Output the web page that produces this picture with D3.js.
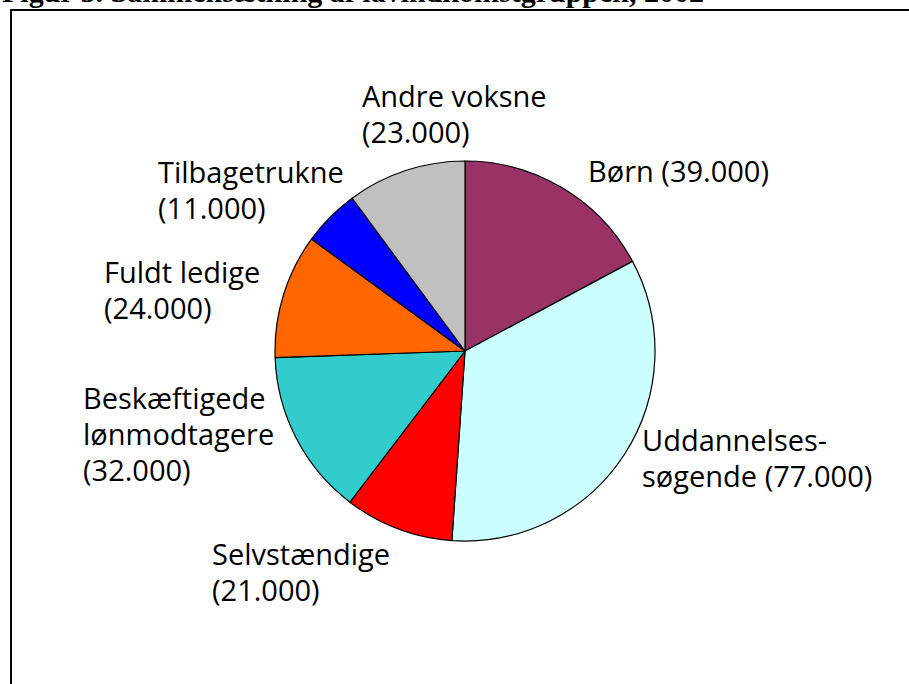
<!DOCTYPE html>
<html>
<head>
<meta charset="utf-8">
<script src="https://cdn.jsdelivr.net/npm/d3@7"></script>
<style>
  body { margin: 0; background: #fff; }
  svg { display: block; }
</style>
</head>
<body>
<svg id="pie" width="909" height="684"></svg>
<script>
// data, in thousands of persons, clockwise from 12 o'clock
var categories = ["Børn", "Uddannelsessøgende", "Selvstændige", "Beskæftigede lønmodtagere",
                  "Fuldt ledige", "Tilbagetrukne", "Andre voksne"];
var values = [39, 77, 21, 32, 24, 11, 23];
var labelLines = [
    ["Børn (39.000)"],
    ["Uddannelses-", "søgende (77.000)"],
    ["Selvstændige", "(21.000)"],
    ["Beskæftigede", "lønmodtagere", "(32.000)"],
    ["Fuldt ledige", "(24.000)"],
    ["Tilbagetrukne", "(11.000)"],
    ["Andre voksne", "(23.000)"]
];
var colors = ["#993366", "#CCFFFF", "#FF0000", "#33CCCC", "#FF6600", "#0000FF", "#C0C0C0"];

var svg = d3.select("#pie"),
    cx = 465, cy = 351, radius = 190;

// title, mostly above the top of the picture as in the original
svg.append("text")
    .attr("x", 2)
    .attr("y", 2)
    .style("font-family", "'Liberation Serif', serif")
    .style("font-weight", "bold")
    .style("font-size", "30px")
    .text("Figur 5. Sammensætning af lavindkomstgruppen, 2002");

// frame (right and bottom edges fall outside the picture)
svg.append("rect")
    .attr("x", 11)
    .attr("y", 10)
    .attr("width", 920)
    .attr("height", 700)
    .attr("fill", "none")
    .attr("stroke", "#000")
    .attr("stroke-width", 2);

var color = d3.scaleOrdinal().domain(categories).range(colors);

var pie = d3.pie().sort(null).value(d => d.value);
var arc = d3.arc().innerRadius(0).outerRadius(radius);

var data = categories.map((c, i) => ({name: c, value: values[i], lines: labelLines[i]}));

var g = svg.append("g")
    .attr("transform", "translate(" + cx + "," + cy + ")");

g.selectAll("path")
    .data(pie(data))
    .enter()
    .append("path")
    .attr("d", arc)
    .attr("fill", d => color(d.data.name))
    .attr("stroke", "#000")
    .attr("stroke-width", 1.2)
    .attr("stroke-linejoin", "round");

// label anchor points (left edge, first baseline), placed like the original
var labelPos = [
    [588, 182],
    [642, 451],
    [212, 565],
    [83, 409],
    [104, 283],
    [158, 183],
    [362, 107]
];

var labels = svg.append("g")
    .style("font-family", "'Open Sans', 'Noto Sans', sans-serif")
    .style("font-size", "29px")
    .attr("fill", "#000");

data.forEach(function(d, i) {
    var t = labels.append("text")
        .attr("x", labelPos[i][0])
        .attr("y", labelPos[i][1]);
    d.lines.forEach(function(line, j) {
        t.append("tspan")
            .attr("x", labelPos[i][0])
            .attr("dy", j === 0 ? 0 : 36)
            .text(line);
    });
});
</script>
</body>
</html>
